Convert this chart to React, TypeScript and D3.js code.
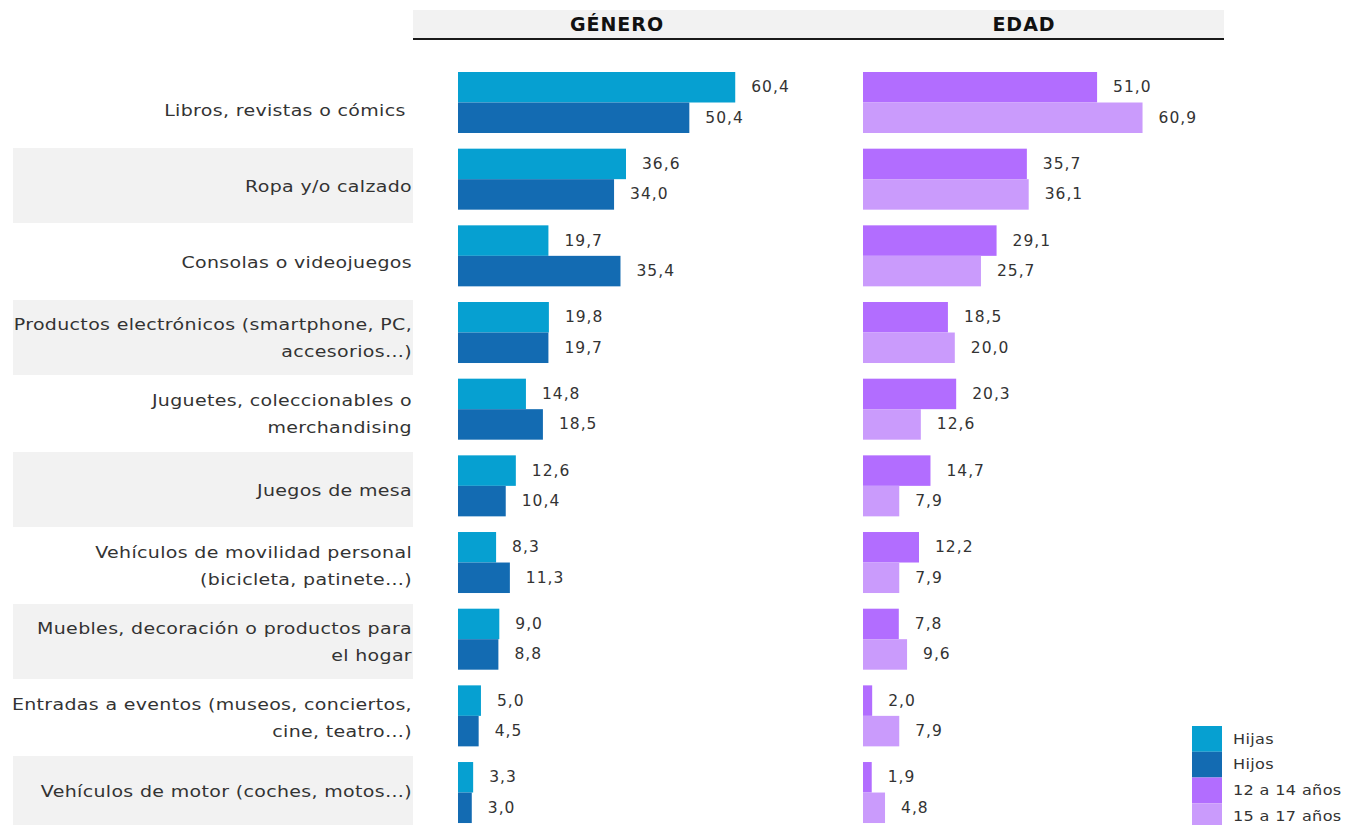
import React from "react";
import * as d3 from "d3";

const categories: string[] = [
  "Libros, revistas o cómics ",
  "Ropa y/o calzado",
  "Consolas o videojuegos",
  "Productos electrónicos (smartphone, PC,\naccesorios…)",
  "Juguetes, coleccionables o\nmerchandising",
  "Juegos de mesa",
  "Vehículos de movilidad personal\n(bicicleta, patinete…)",
  "Muebles, decoración o productos para\nel hogar",
  "Entradas a eventos (museos, conciertos,\ncine, teatro…)",
  "Vehículos de motor (coches, motos…)",
];

const hijas: number[] = [60.4, 36.6, 19.7, 19.8, 14.8, 12.6, 8.3, 9.0, 5.0, 3.3];
const hijos: number[] = [50.4, 34.0, 35.4, 19.7, 18.5, 10.4, 11.3, 8.8, 4.5, 3.0];
const edad1214: number[] = [51.0, 35.7, 29.1, 18.5, 20.3, 14.7, 12.2, 7.8, 2.0, 1.9];
const edad1517: number[] = [60.9, 36.1, 25.7, 20.0, 12.6, 7.9, 7.9, 9.6, 7.9, 4.8];

const panelTitles: string[] = ["GÉNERO", "EDAD"];
const legendLabels: string[] = ["Hijas", "Hijos", "12 a 14 años", "15 a 17 años"];
const colors: string[] = ["#06a0d1", "#136bb2", "#b26dff", "#ca9bfc"];

const fmt = (v: number) => v.toFixed(1).replace(".", ",");

export default function App() {
  const W = 1347;
  const H = 825;
  const idx = categories.map((_, i) => String(i));

  // bars grid: step 76.67, bar pair 61
  const yBars = d3.scaleBand<string>().domain(idx).range([72, 72 + 76.67 * 9 + 61]).paddingInner(15.67 / 76.67).paddingOuter(0);
  // label / background band grid: step 76, band 75
  const yRows = d3.scaleBand<string>().domain(idx).range([72, 72 + 76 * 9 + 75]).paddingInner(1 / 76).paddingOuter(0);
  const sub = d3.scaleBand<string>().domain(["a", "b"]).range([0, yBars.bandwidth()]);

  const x = d3.scaleLinear().domain([0, 70]).range([0, 321.3]);
  const panels = [
    { x0: 458, series: [hijas, hijos], cols: [colors[0], colors[1]] },
    { x0: 863, series: [edad1214, edad1517], cols: [colors[2], colors[3]] },
  ];

  const textColor = "#333333";
  const font = "'DejaVu Sans', Verdana, sans-serif";

  return (
    <svg width={W} height={H} style={{ position: "absolute", left: 0, top: 0, background: "#fff" }}>
      {/* header */}
      <rect x={413} y={10} width={811} height={28} fill="#f2f2f2" />
      <line x1={413} x2={1224} y1={39} y2={39} stroke="#1a1a1a" strokeWidth={2} />
      {panelTitles.map((t, i) => (
        <text key={t} x={i === 0 ? 617 : 1024} y={24} textAnchor="middle" dominantBaseline="central"
          fontFamily={font} fontWeight="bold" fontSize={19} fill="#111" style={{ letterSpacing: "1px" }}>{t}</text>
      ))}

      {/* row bands */}
      {idx.map((k, i) =>
        i % 2 === 1 ? (
          <rect key={"band" + k} x={13} y={yRows(k)!} width={400} height={Math.min(yRows.bandwidth(), H - yRows(k)!)} fill="#f2f2f2" />
        ) : null
      )}

      {/* category labels */}
      {categories.map((c, i) => {
        const lines = c.split("\n");
        const cy = yRows(String(i))! + yRows.bandwidth() / 2 + (i === 9 ? -3 : 0);
        const lh = 27;
        return (
          <g key={"cat" + i} transform={`translate(412,0) scale(1.15,1)`}>
            <text textAnchor="end" fontFamily={font} fontSize={16.5} fill={textColor}
              style={{ whiteSpace: "pre", letterSpacing: "0.3px" }}>
              {lines.map((l, j) => (
                <tspan key={j} x={0} y={cy + (j - (lines.length - 1) / 2) * lh} dominantBaseline="central">{l}</tspan>
              ))}
            </text>
          </g>
        );
      })}

      {/* bars */}
      {panels.map((p, pi) => (
        <g key={"panel" + pi}>
          {idx.map((k, i) =>
            p.series.map((s, si) => {
              const y0 = yBars(k)! + sub(si === 0 ? "a" : "b")!;
              const w = x(s[i]);
              return (
                <g key={k + "-" + si}>
                  <rect x={p.x0} y={y0} width={w} height={sub.bandwidth()} fill={p.cols[si]} />
                  <text x={p.x0 + w + 16} y={y0 + sub.bandwidth() / 2} dominantBaseline="central"
                    fontFamily={font} fontSize={15.5} fill={textColor} style={{ letterSpacing: "1px" }}>
                    {fmt(s[i])}
                  </text>
                </g>
              );
            })
          )}
        </g>
      ))}

      {/* legend */}
      {legendLabels.map((l, i) => (
        <g key={l}>
          <rect x={1192} y={726 + i * 25.75} width={30} height={25.75} fill={colors[i]} />
          <g transform={`translate(1233,${726 + i * 25.75 + 13}) scale(1.15,1)`}>
            <text x={0} y={0} dominantBaseline="central" fontFamily={font} fontSize={14}
              fill={textColor} style={{ letterSpacing: "0.3px" }}>{l}</text>
          </g>
        </g>
      ))}
    </svg>
  );
}
